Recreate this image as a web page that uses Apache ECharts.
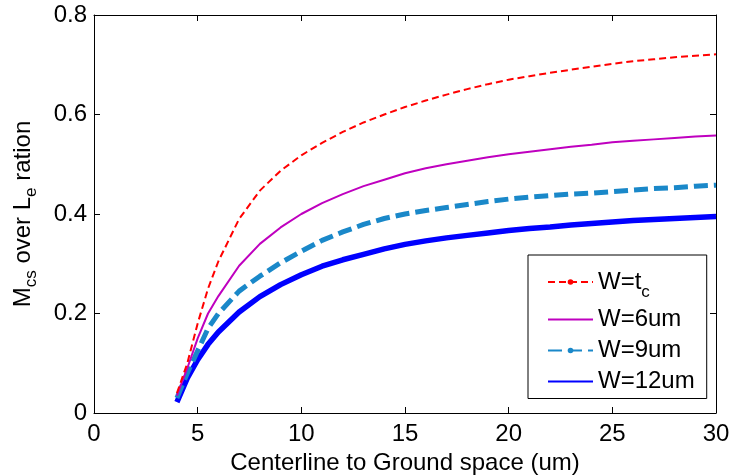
<!DOCTYPE html>
<html>
<head>
<meta charset="utf-8">
<script src="https://cdn.jsdelivr.net/npm/echarts@6/dist/echarts.min.js"></script>
<style>
html,body{margin:0;padding:0;background:#fff;}
#c{width:730px;height:476px;}
</style>
</head>
<body>
<div id="c"></div>
<script>
const xValues = [4, 4.5, 5, 5.5, 6, 7, 8, 9, 10, 11, 12, 13, 14, 15, 16, 17, 18, 19, 20, 21, 22, 23, 24, 25, 26, 27, 28, 29, 30];
const wTc   = [0.040, 0.100, 0.180, 0.250, 0.305, 0.390, 0.447, 0.487, 0.518, 0.543, 0.565, 0.584, 0.600, 0.615, 0.628, 0.640, 0.651, 0.661, 0.670, 0.677, 0.684, 0.690, 0.696, 0.702, 0.707, 0.711, 0.715, 0.718, 0.721];
const w6um  = [0.035, 0.090, 0.150, 0.200, 0.235, 0.296, 0.340, 0.373, 0.400, 0.422, 0.440, 0.456, 0.469, 0.482, 0.492, 0.500, 0.507, 0.514, 0.520, 0.525, 0.530, 0.535, 0.539, 0.544, 0.547, 0.550, 0.553, 0.556, 0.558];
const w9um  = [0.030, 0.080, 0.125, 0.170, 0.200, 0.245, 0.275, 0.302, 0.325, 0.347, 0.364, 0.379, 0.391, 0.400, 0.407, 0.413, 0.419, 0.425, 0.430, 0.434, 0.437, 0.440, 0.442, 0.445, 0.448, 0.451, 0.453, 0.456, 0.458];
const w12um = [0.022, 0.070, 0.107, 0.138, 0.163, 0.203, 0.234, 0.258, 0.278, 0.295, 0.308, 0.319, 0.330, 0.339, 0.346, 0.352, 0.357, 0.362, 0.367, 0.371, 0.374, 0.378, 0.381, 0.384, 0.387, 0.389, 0.391, 0.393, 0.395];
const seriesNames = ['W=tc', 'W=6um', 'W=9um', 'W=12um'];
const legendLabels = ['W=t{sub|c}', 'W=6um', 'W=9um', 'W=12um'];
const legendDot = [true, false, true, false];
const xTitle = 'Centerline to Ground space (um)';
const yTitle = 'M{sub|cs} over L{sub|e} ration';

const FONT = "'Liberation Sans', Arial, Helvetica, sans-serif";
const FS = 24;
const pairs = arr => xValues.map((x, i) => [x, arr[i]]);
const tickStyle = {show: true, inside: true, length: 6, lineStyle: {color: '#000'}};
const lineAx = {show: true, onZero: false, lineStyle: {color: '#000', width: 1}};

const chart = echarts.init(document.getElementById('c'), null, {renderer: 'canvas'});
chart.setOption({
  animation: false,
  backgroundColor: '#fff',
  grid: {left: 94, right: 14, top: 15, bottom: 63, containLabel: false, outerBoundsMode: 'none'},
  xAxis: [
    {type: 'value', min: 0, max: 30, interval: 5, position: 'bottom',
     axisLine: lineAx, axisTick: tickStyle, splitLine: {show: false},
     axisLabel: {color: '#000', fontSize: FS, fontFamily: FONT, margin: 9},
     name: xTitle, nameLocation: 'middle', nameGap: 35,
     nameTextStyle: {color: '#000', fontSize: FS, fontFamily: FONT}},
    {type: 'value', min: 0, max: 30, interval: 5, position: 'top',
     axisLine: lineAx, axisTick: tickStyle, splitLine: {show: false},
     axisLabel: {show: false}}
  ],
  yAxis: [
    {type: 'value', min: 0, max: 0.8, interval: 0.2, position: 'left',
     axisLine: lineAx, axisTick: tickStyle, splitLine: {show: false},
     axisLabel: {color: '#000', fontSize: FS, fontFamily: FONT, margin: 7},
     name: yTitle, nameLocation: 'middle', nameGap: 54,
     nameTextStyle: {color: '#000', fontSize: FS, fontFamily: FONT,
       rich: {sub: {fontSize: 17, fontFamily: FONT, color: '#000', padding: [16, 0, 0, 0]}}}},
    {type: 'value', min: 0, max: 0.8, interval: 0.2, position: 'right',
     axisLine: lineAx, axisTick: tickStyle, splitLine: {show: false},
     axisLabel: {show: false}}
  ],
  legend: {
    left: 528, top: 255, orient: 'vertical',
    backgroundColor: '#fff', borderColor: '#000', borderWidth: 1, borderRadius: 0,
    padding: [15, 12, 5, 19], itemGap: 7, itemWidth: 45, itemHeight: 7,
    data: seriesNames.map((n, i) => legendDot[i] ? {name: n} : {name: n, itemStyle: {opacity: 0}}),
    formatter: name => legendLabels[seriesNames.indexOf(name)],
    textStyle: {color: '#000', fontSize: FS, fontFamily: FONT,
      rich: {sub: {fontSize: 17, fontFamily: FONT, color: '#000', padding: [20, 0, 0, 0]}}}
  },
  series: [
    {name: seriesNames[0], type: 'line', data: pairs(wTc), showSymbol: false, symbol: 'circle',
     color: '#ff0000', lineStyle: {color: '#ff0000', width: 2, type: [7, 4]}, z: 5},
    {name: seriesNames[1], type: 'line', data: pairs(w6um), showSymbol: false, symbol: 'none',
     color: '#bf00bf', lineStyle: {color: '#bf00bf', width: 2, type: 'solid'}, z: 4},
    {name: seriesNames[2], type: 'line', data: pairs(w9um), showSymbol: false, symbol: 'circle',
     color: '#1a88c9', lineStyle: {color: '#1a88c9', width: 5, type: [14, 6]}, z: 3},
    {name: seriesNames[3], type: 'line', data: pairs(w12um), showSymbol: false, symbol: 'none',
     color: '#0000ff', lineStyle: {color: '#0000ff', width: 5.5, type: 'solid'}, z: 2}
  ]
});
</script>
</body>
</html>
